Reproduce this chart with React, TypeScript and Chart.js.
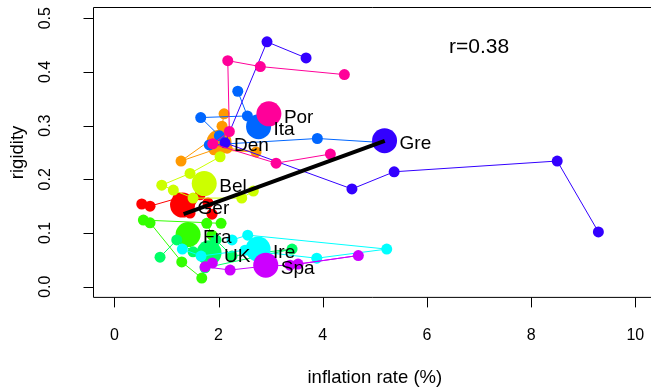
import React, { useEffect, useRef } from "react";
import { Chart, registerables } from "chart.js";

Chart.register(...registerables);

// ---- data ----
const countries = ["Ger", "Den", "Bel", "Fra", "UK", "Ire", "Ita", "Gre", "Spa", "Por"];
const colors = ["#FF0000", "#FF9900", "#CCFF00", "#33FF00", "#00FF66", "#00FFFF", "#0066FF", "#3300FF", "#CC00FF", "#FF0099"];

const gerX = [0.526, 0.685, 1.223, 1.453, 1.645, 1.797, 1.875];
const gerY = [0.154, 0.150, 0.165, 0.137, 0.171, 0.156, 0.135];
const denX = [2.106, 2.067, 1.933, 1.280, 1.914, 2.720, 2.164];
const denY = [0.322, 0.299, 0.279, 0.234, 0.255, 0.251, 0.258];
const belX = [2.029, 1.453, 0.910, 1.132, 1.511, 2.445, 2.668];
const belY = [0.242, 0.211, 0.189, 0.180, 0.165, 0.165, 0.178];
const fraX = [2.048, 0.557, 0.685, 1.294, 1.678, 1.875, 1.774];
const fraY = [0.118, 0.124, 0.119, 0.046, 0.016, 0.096, 0.118];
const ukX = [0.877, 1.198, 1.511, 1.952, 2.259, 3.411, 1.741];
const ukY = [0.055, 0.087, 0.065, 0.087, 0.057, 0.070, 0.035];
const ireX = [1.305, 1.664, 2.509, 3.885, 5.228, 2.560, 2.259];
const ireY = [0.070, 0.057, 0.068, 0.053, 0.070, 0.096, 0.087];
const itaX = [2.369, 2.553, 1.658, 2.015, 1.823, 3.896, 5.215];
const itaY = [0.364, 0.318, 0.315, 0.281, 0.264, 0.276, 0.268];
const greX = [3.680, 2.930, 2.125, 4.560, 5.370, 8.500, 9.290];
const greY = [0.426, 0.456, 0.268, 0.182, 0.214, 0.234, 0.102];
const spaX = [1.881, 1.741, 2.222, 2.912, 3.372, 4.683, 3.526];
const spaY = [0.044, 0.037, 0.031, 0.0385, 0.040, 0.058, 0.042];
const porX = [4.415, 2.802, 2.177, 2.207, 1.889, 3.104, 4.146];
const porY = [0.395, 0.410, 0.421, 0.289, 0.266, 0.230, 0.247];

const seriesX = [gerX, denX, belX, fraX, ukX, ireX, itaX, greX, spaX, porX];
const seriesY = [gerY, denY, belY, fraY, ukY, ireY, itaY, greY, spaY, porY];

const meanX = [1.309, 2.01, 1.725, 1.415, 1.818, 2.758, 2.768, 5.186, 2.906, 2.966];
const meanY = [0.152, 0.269, 0.192, 0.097, 0.063, 0.070, 0.298, 0.272, 0.040, 0.322];

const regX = [1.33, 5.19];
const regY = [0.135, 0.2717];

const corrText = "r=0.38";
const corrPos = [7, 0.45];

const xTicks = [0, 2, 4, 6, 8, 10];
const xTickLabels = ["0", "2", "4", "6", "8", "10"];
const yTicks = [0, 0.1, 0.2, 0.3, 0.4, 0.5];
const yTickLabels = ["0.0", "0.1", "0.2", "0.3", "0.4", "0.5"];
const xTitle = "inflation rate (%)";
const yTitle = "rigidity";

const FONT = '"Liberation Sans", Arial, Helvetica, sans-serif';

export default function App() {
  const ref = useRef<HTMLCanvasElement | null>(null);

  useEffect(() => {
    document.body.style.margin = "0";
    const canvas = ref.current;
    if (!canvas) return;

    const datasets: any[] = [];
    countries.forEach((c, i) => {
      datasets.push({
        label: c,
        data: seriesX[i].map((x, k) => ({ x, y: seriesY[i][k] })),
        showLine: true,
        borderColor: colors[i],
        backgroundColor: colors[i],
        borderWidth: 1,
        pointRadius: 5.5,
        pointBorderWidth: 0,
        pointBackgroundColor: colors[i],
      });
      datasets.push({
        label: c + " mean",
        data: [{ x: meanX[i], y: meanY[i] }],
        showLine: false,
        borderColor: colors[i],
        backgroundColor: colors[i],
        pointRadius: 12.5,
        pointBorderWidth: 0,
        pointBackgroundColor: colors[i],
      });
    });
    const regIndex = datasets.length;
    datasets.push({
      label: "fit",
      data: regX.map((x, k) => ({ x, y: regY[k] })),
      showLine: true,
      borderColor: "#000000",
      borderWidth: 4,
      pointRadius: 0,
      borderCapStyle: "butt",
    });
    const n = datasets.length;
    datasets.forEach((d, i) => (d.order = n - i));

    const decor = {
      id: "decor",
      beforeDatasetDraw(chart: any, args: any) {
        if (args.index !== regIndex) return;
        const ctx = chart.ctx;
        const xs = chart.scales.x;
        const ys = chart.scales.y;
        ctx.save();
        ctx.fillStyle = "#000";
        ctx.textAlign = "left";
        ctx.textBaseline = "alphabetic";
        const fs = 19;
        ctx.font = `${fs}px ${FONT}`;
        countries.forEach((c, i) => {
          const px = xs.getPixelForValue(meanX[i]);
          const py = ys.getPixelForValue(meanY[i]);
          ctx.fillText(c, px + 15, py + 0.358 * fs + 2);
        });
        const rf = 21;
        ctx.font = `${rf}px ${FONT}`;
        ctx.textAlign = "center";
        ctx.fillText(
          corrText,
          xs.getPixelForValue(corrPos[0]),
          ys.getPixelForValue(corrPos[1]) + 0.358 * rf
        );
        ctx.restore();
      },
      afterDraw(chart: any) {
        const ctx = chart.ctx;
        const a = chart.chartArea;
        const xs = chart.scales.x;
        const ys = chart.scales.y;
        ctx.save();
        ctx.strokeStyle = "#000";
        ctx.lineWidth = 1;
        // box (right side falls just outside the canvas)
        ctx.beginPath();
        ctx.moveTo(chart.width + 5, a.top);
        ctx.lineTo(a.left, a.top);
        ctx.lineTo(a.left, a.bottom);
        ctx.lineTo(chart.width + 5, a.bottom);
        ctx.stroke();
        const tickLen = 10;
        ctx.beginPath();
        xTicks.forEach((v) => {
          const px = Math.round(xs.getPixelForValue(v)) + 0.5;
          ctx.moveTo(px, a.bottom);
          ctx.lineTo(px, a.bottom + tickLen);
        });
        yTicks.forEach((v) => {
          const py = Math.round(ys.getPixelForValue(v)) + 0.5;
          ctx.moveTo(a.left, py);
          ctx.lineTo(a.left - tickLen, py);
        });
        ctx.stroke();
        ctx.fillStyle = "#000";
        const tf = 16;
        ctx.font = `${tf}px ${FONT}`;
        ctx.textAlign = "center";
        ctx.textBaseline = "alphabetic";
        xTicks.forEach((v, i) => {
          ctx.fillText(xTickLabels[i], xs.getPixelForValue(v), 339.5);
        });
        yTicks.forEach((v, i) => {
          ctx.save();
          ctx.translate(50, ys.getPixelForValue(v));
          ctx.rotate(-Math.PI / 2);
          ctx.fillText(yTickLabels[i], 0, 0);
          ctx.restore();
        });
        const lf = 18.5;
        ctx.font = `${lf}px ${FONT}`;
        ctx.fillText(xTitle, (a.left + xs.getPixelForValue(10.4)) / 2, 383);
        ctx.save();
        ctx.translate(23, (a.top + a.bottom) / 2);
        ctx.rotate(-Math.PI / 2);
        ctx.fillText(yTitle, 0, 0);
        ctx.restore();
        ctx.restore();
      },
    };

    const chart = new Chart(canvas, {
      type: "scatter",
      data: { datasets },
      options: {
        animation: false,
        responsive: false,
        devicePixelRatio: 1,
        events: [],
        layout: { autoPadding: false, padding: { left: 93.5, top: 7.5, right: 0, bottom: 388 - 297.4 } },
        scales: {
          x: { type: "linear", display: false, min: -0.4, max: 10.3 },
          y: { type: "linear", display: false, min: -0.02, max: 0.52 },
        },
        plugins: {
          legend: { display: false },
          tooltip: { enabled: false },
        },
      },
      plugins: [decor],
    });
    return () => chart.destroy();
  }, []);

  return (
    <div style={{ position: "fixed", left: 0, top: 0, width: 651, height: 388, background: "#fff" }}>
      <canvas ref={ref} width={651} height={388} style={{ display: "block", width: 651, height: 388 }} />
    </div>
  );
}
